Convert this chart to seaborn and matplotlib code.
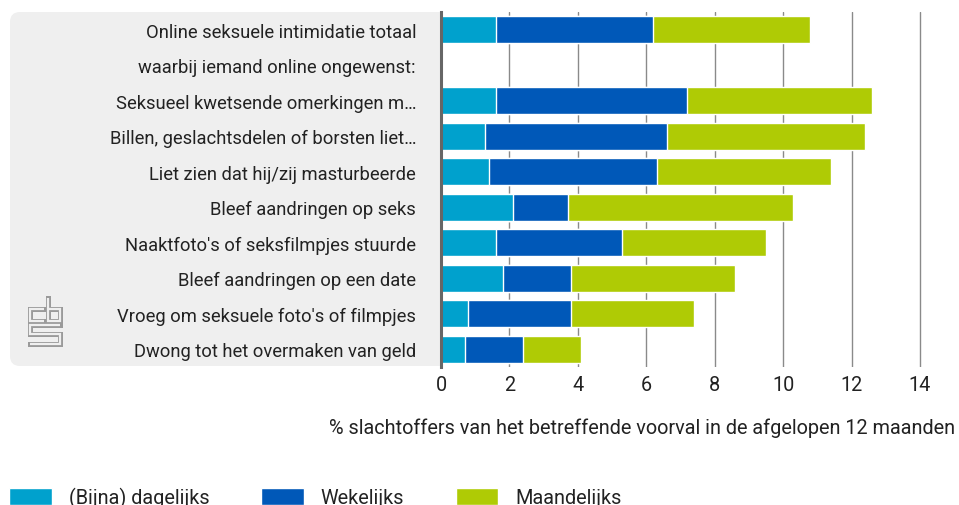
import numpy as np
import pandas as pd
import seaborn as sns
import matplotlib.pyplot as plt
from matplotlib.patches import FancyBboxPatch
from matplotlib.lines import Line2D

categories = [
    "Online seksuele intimidatie totaal",
    "waarbij iemand online ongewenst:",
    "Seksueel kwetsende omerkingen m\u2026",
    "Billen, geslachtsdelen of borsten liet\u2026",
    "Liet zien dat hij/zij masturbeerde",
    "Bleef aandringen op seks",
    "Naaktfoto's of seksfilmpjes stuurde",
    "Bleef aandringen op een date",
    "Vroeg om seksuele foto's of filmpjes",
    "Dwong tot het overmaken van geld",
]
dagelijks = [1.6, np.nan, 1.6, 1.3, 1.4, 2.1, 1.6, 1.8, 0.8, 0.7]
wekelijks = [4.6, np.nan, 5.6, 5.3, 4.9, 1.6, 3.7, 2.0, 3.0, 1.7]
maandelijks = [4.6, np.nan, 5.4, 5.8, 5.1, 6.6, 4.2, 4.8, 3.6, 1.7]

series_names = ["(Bijna) dagelijks", "Wekelijks", "Maandelijks"]
colors = ["#00A1CD", "#0058B8", "#AFCB05"]
xticks = [0, 2, 4, 6, 8, 10, 12, 14]
xlabel = "% slachtoffers van het betreffende voorval in de afgelopen 12 maanden"

df = pd.DataFrame({
    "categorie": categories,
    "d": dagelijks,
    "w": wekelijks,
    "m": maandelijks,
})
df["cum_d"] = df["d"]
df["cum_w"] = df["d"] + df["w"]
df["cum_m"] = df["d"] + df["w"] + df["m"]

sns.set_theme(style="white")
plt.rcParams["font.family"] = ["Roboto", "DejaVu Sans"]
text_color = "#222222"
fs_cat = 13.2
fs = 14.3

W, H = 959, 506
fig = plt.figure(figsize=(W / 100, H / 100), dpi=100)
xmax = 14.05
px_per_unit = 34.21
ax_left, ax_top, ax_bottom = 441, 13, 368
ax = fig.add_axes([ax_left / W, 1 - ax_bottom / H,
                   xmax * px_per_unit / W, (ax_bottom - ax_top) / H])
ax.set_zorder(2)

# grey label panel with rounded left corners
panel = FancyBboxPatch((10 / 100, (H - 367) / 100), (460 - 10) / 100, (367 - 13) / 100,
                       boxstyle="round,pad=0,rounding_size=0.1",
                       transform=fig.dpi_scale_trans, facecolor="#EFEFEF",
                       edgecolor="none", zorder=0)
fig.patches.append(panel)

# stacked bars: cumulative totals drawn back to front
for col, color in zip(["cum_m", "cum_w", "cum_d"], colors[::-1]):
    sns.barplot(data=df, x=col, y="categorie", order=categories, orient="h",
                color=color, width=0.76, edgecolor="white", linewidth=1.0,
                errorbar=None, saturation=1, ax=ax)

handles = [ax.containers[2], ax.containers[1], ax.containers[0]]

ax.set_xlim(0, xmax)
ax.set_xticks(xticks)
ax.set_xticklabels([str(t) for t in xticks])
ax.set_ylabel("")
ax.set_xlabel(xlabel, fontsize=fs, color=text_color)
ax.xaxis.set_label_coords((955 - ax_left) / (xmax * px_per_unit), (ax_bottom - 428) / (ax_bottom - ax_top))
ax.xaxis.label.set_ha("right")
ax.xaxis.label.set_va("center")

ax.tick_params(axis="y", length=0, pad=18, labelsize=fs_cat, labelcolor=text_color)
ax.tick_params(axis="x", length=0, pad=6, labelsize=fs, labelcolor=text_color)

ax.xaxis.grid(True, color="#8a8a8a", linewidth=1.0)
ax.yaxis.grid(False)
ax.set_axisbelow(True)
for s in ["top", "right", "bottom"]:
    ax.spines[s].set_visible(False)
ax.spines["left"].set_color("#666666")
ax.spines["left"].set_linewidth(2.2)
ax.patch.set_facecolor("white")

# cbs logo: hollow grey strokes
logo_paths = [
    [(44, 310), (30, 310), (30, 322), (44, 322)],
    [(48, 299), (48, 322), (60, 322), (60, 310), (48, 310)],
    [(60, 326), (30, 326), (30, 335), (60, 335), (60, 345), (30, 345)],
]
for path in logo_paths:
    xs = [p[0] / 100 for p in path]
    ys = [(H - p[1]) / 100 for p in path]
    fig.add_artist(Line2D(xs, ys, transform=fig.dpi_scale_trans, color="#9a9a9a",
                          lw=3.6, solid_capstyle="projecting", solid_joinstyle="miter", zorder=1))
    fig.add_artist(Line2D(xs, ys, transform=fig.dpi_scale_trans, color="#EFEFEF",
                          lw=1.6, solid_capstyle="butt", solid_joinstyle="miter", zorder=1.1))

leg = fig.legend(handles, series_names, loc="upper left",
                 bbox_to_anchor=(9 / W, 1 - 488 / H), ncol=3, frameon=False,
                 fontsize=fs, handlelength=2.15, handleheight=1.0,
                 handletextpad=0.85, columnspacing=2.6, borderpad=0, borderaxespad=0)
for t in leg.get_texts():
    t.set_color(text_color)

fig.savefig("out.png", dpi=100)
